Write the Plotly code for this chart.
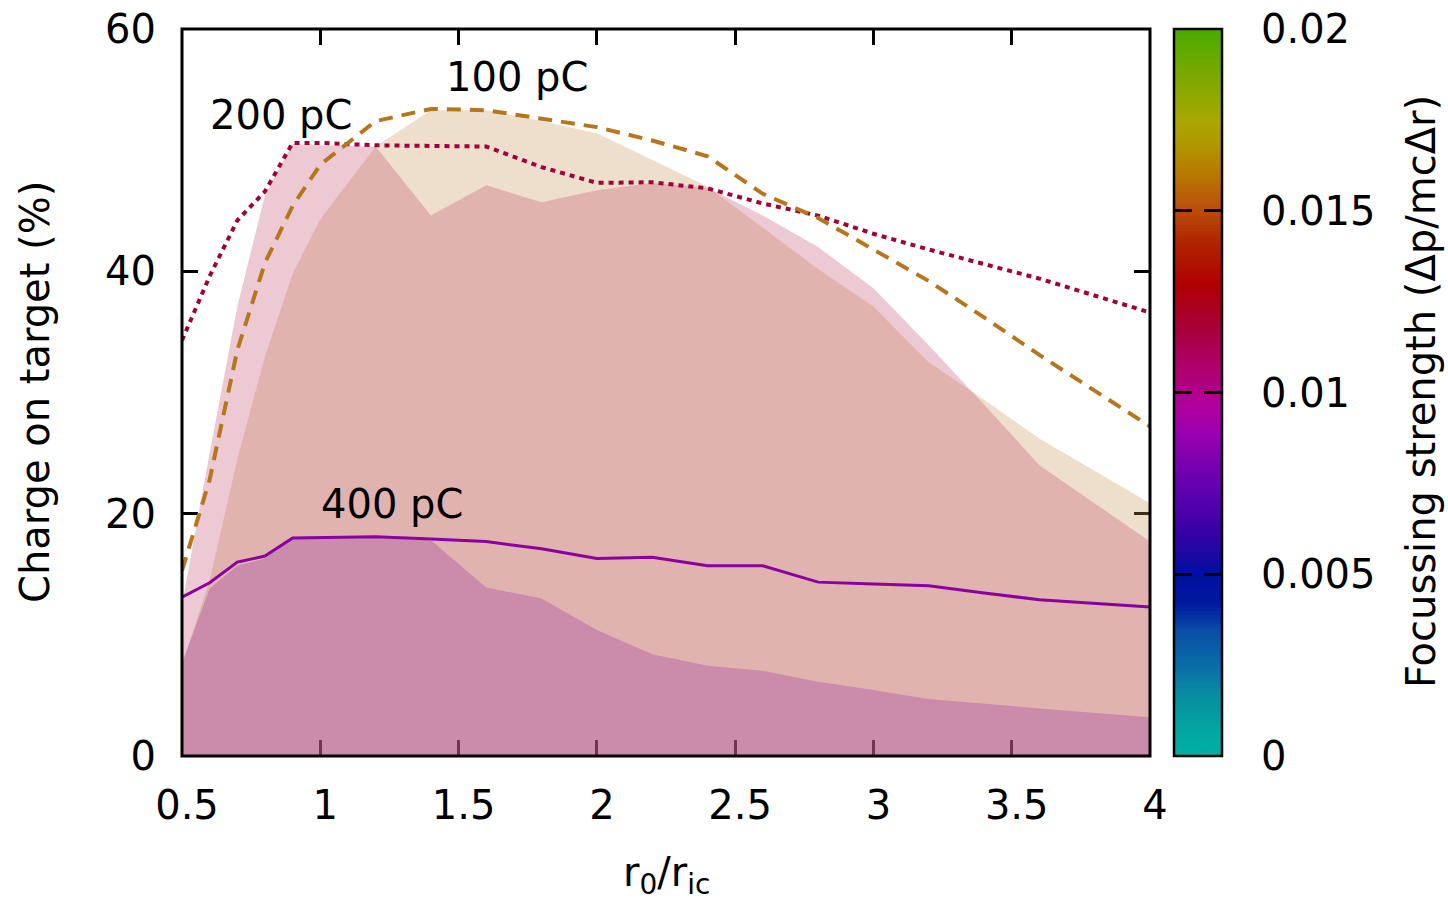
import plotly.graph_objects as go

# Normalised initial radius r0/r_ic
r_ratio = [0.5, 0.6, 0.7, 0.8, 0.9, 1.0, 1.2, 1.4, 1.6, 1.8, 2.0,
           2.2, 2.4, 2.6, 2.8, 3.0, 3.2, 3.4, 3.6, 4.0]

# Charge on target (%) - upper envelope curves
line_100pc = [15.3, 22.8, 33.5, 40.7, 45.4, 48.8, 52.4, 53.4, 53.3, 52.6, 51.9,
              50.8, 49.5, 46.4, 44.4, 41.8, 39.2, 36.2, 33.1, 27.2]
line_200pc = [34.3, 39.6, 44.2, 46.6, 50.6, 50.6, 50.4, 50.35, 50.3, 48.6, 47.3,
              47.35, 46.85, 45.6, 44.6, 43.1, 41.8, 40.6, 39.4, 36.6]
line_400pc = [13.1, 14.3, 16.0, 16.5, 18.0, 18.05, 18.1, 17.9, 17.7, 17.1, 16.3,
              16.4, 15.7, 15.7, 14.35, 14.2, 14.05, 13.45, 12.9, 12.3]

# Charge on target (%) - shaded regions
band_100pc = [7.5, 14.5, 24.5, 33.0, 39.8, 44.3, 50.3, 53.3, 53.3, 52.4, 51.4,
              49.2, 47.0, 43.6, 40.2, 37.1, 32.5, 29.4, 26.2, 20.85]
band_200pc = [12.5, 25.0, 37.1, 46.3, 50.5, 50.4, 50.3, 44.6, 47.1, 45.7, 46.7,
              47.3, 46.9, 44.6, 42.0, 38.6, 33.9, 29.0, 24.0, 17.7]
band_400pc = [7.7, 13.8, 15.7, 16.3, 17.9, 18.0, 18.0, 17.8, 13.9, 13.0, 10.4,
              8.4, 7.45, 7.04, 6.13, 5.45, 4.7, 4.3, 3.93, 3.19]

x_tickvals = [0.5, 1, 1.5, 2, 2.5, 3, 3.5, 4]
x_ticktext = ["0.5", "1", "1.5", "2", "2.5", "3", "3.5", "4"]
y_tickvals = [0, 20, 40, 60]

# Focusing-strength colour box
cb_min, cb_max = 0.0, 0.02
cb_tickvals = [0, 0.005, 0.01, 0.015, 0.02]
cb_ticktext = ["0", "0.005", "0.01", "0.015", "0.02"]
cb_steps = 240

FONT = "DejaVu Sans"
FS = 40

focus_scale = [
    [0.00, "#00b0a2"], [0.03, "#02a8a2"], [0.08, "#0890a0"], [0.12, "#0a70a8"],
    [0.17, "#0a50a8"], [0.21, "#0018a0"], [0.25, "#0010a0"], [0.31, "#3a00a8"],
    [0.38, "#6800b0"], [0.44, "#9800b0"], [0.48, "#b000a0"], [0.52, "#b00078"],
    [0.59, "#a80038"], [0.65, "#b00000"], [0.71, "#b02800"], [0.75, "#b84c0c"],
    [0.80, "#b87800"], [0.84, "#b09800"], [0.875, "#a8a800"], [0.93, "#80a800"],
    [1.00, "#48ac00"],
]

# pixel layout of the figure
W, H = 1448, 901
PLOT_L, PLOT_R, PLOT_T, PLOT_B = 182, 1150, 29, 756
CB_L, CB_R = 1174, 1222
PAPER_W = CB_R - PLOT_L
PAPER_H = PLOT_B - PLOT_T


def px_x(p):
    return (p - PLOT_L) / PAPER_W


def px_y(p):
    return (PLOT_B - p) / PAPER_H


fig = go.Figure()

# shaded regions (translucent, filled down to zero)
for band, col in [(band_100pc, "rgba(198,148,85,0.3)"),
                  (band_200pc, "rgba(195,78,108,0.3)"),
                  (band_400pc, "rgba(153,47,163,0.3)")]:
    fig.add_trace(go.Scatter(x=r_ratio, y=band, mode="lines", fill="tozeroy",
                             fillcolor=col, line=dict(width=0, color=col),
                             hoverinfo="skip", showlegend=False))

# envelope curves
fig.add_trace(go.Scatter(x=r_ratio, y=line_400pc, mode="lines",
                         line=dict(color="#8a00a0", width=3), showlegend=False))
fig.add_trace(go.Scatter(x=r_ratio, y=line_200pc, mode="lines",
                         line=dict(color="#a2003a", width=4, dash="5px,5px"),
                         showlegend=False))
fig.add_trace(go.Scatter(x=r_ratio, y=line_100pc, mode="lines",
                         line=dict(color="#b8761c", width=4, dash="14px,9px"),
                         showlegend=False))

# colour box drawn as a single-column heatmap on its own axes
cb_levels = [cb_min + (cb_max - cb_min) * i / (cb_steps - 1) for i in range(cb_steps)]
fig.add_trace(go.Heatmap(x=[0], y=cb_levels, z=[[v] for v in cb_levels],
                         colorscale=focus_scale, zmin=cb_min, zmax=cb_max,
                         showscale=False, hoverinfo="skip",
                         xaxis="x2", yaxis="y2"))

annotations = [
    dict(x=0.858, y=52.9, text="200 pC", showarrow=False, xref="x", yref="y",
         font=dict(family=FONT, size=FS, color="black")),
    dict(x=1.711, y=56.0, text="100 pC", showarrow=False, xref="x", yref="y",
         font=dict(family=FONT, size=FS, color="black")),
    dict(x=1.259, y=20.8, text="400 pC", showarrow=False, xref="x", yref="y",
         font=dict(family=FONT, size=FS, color="black")),
    dict(x=px_x(35), y=px_y(392), xref="paper", yref="paper", textangle=-90,
         text="Charge on target (%)", showarrow=False, xanchor="center", yanchor="middle",
         font=dict(family=FONT, size=FS, color="black")),
    dict(x=px_x(1421), y=px_y(392), xref="paper", yref="paper", textangle=-90,
         text="Focussing strength (\u0394p/mc\u0394r)",
         showarrow=False, xanchor="center", yanchor="middle",
         font=dict(family=FONT, size=FS, color="black")),
    dict(x=px_x(666), y=px_y(875), xref="paper", yref="paper",
         text="r<sub>0</sub>/r<sub>ic</sub>", showarrow=False, xanchor="center",
         yanchor="middle", font=dict(family=FONT, size=FS, color="black")),
]

shapes = [
    dict(type="rect", xref="x domain", yref="y domain", x0=0, x1=1, y0=0, y1=1,
         line=dict(color="black", width=3), layer="above"),
    dict(type="rect", xref="x2 domain", yref="y2 domain", x0=0, x1=1, y0=0, y1=1,
         line=dict(color="black", width=2.5), layer="above"),
]

fig.update_layout(
    width=W, height=H,
    margin=dict(l=PLOT_L, r=W - CB_R, t=PLOT_T, b=H - PLOT_B, pad=0, autoexpand=False),
    paper_bgcolor="white", plot_bgcolor="white",
    font=dict(family=FONT, size=FS, color="black"),
    shapes=shapes, annotations=annotations, showlegend=False,
    xaxis=dict(domain=[0, px_x(PLOT_R)], range=[0.5, 4], tickvals=x_tickvals,
               ticktext=x_ticktext, ticks="inside", ticklen=16, tickwidth=2.5,
               tickcolor="black", mirror="allticks", showline=False, showgrid=False,
               zeroline=False, layer="below traces", ticklabelstandoff=22,
               ticklabelshift=5, tickfont=dict(family=FONT, size=FS, color="black")),
    yaxis=dict(domain=[0, 1], range=[0, 60], tickvals=y_tickvals, ticks="inside",
               ticklen=16, tickwidth=2.5, tickcolor="black", mirror="allticks",
               showline=False, showgrid=False, zeroline=False, layer="below traces",
               ticklabelstandoff=25, tickfont=dict(family=FONT, size=FS, color="black")),
    xaxis2=dict(domain=[px_x(CB_L), 1], range=[-0.5, 0.5], showticklabels=False,
                ticks="", showgrid=False, zeroline=False, showline=False, anchor="y2"),
    yaxis2=dict(domain=[0, 1], range=[cb_min, cb_max], anchor="x2", side="right",
                tickvals=cb_tickvals, ticktext=cb_ticktext, ticks="inside", ticklen=18,
                tickwidth=2.5, tickcolor="black", mirror="allticks", showgrid=False,
                zeroline=False, showline=False, ticklabelstandoff=38,
                tickfont=dict(family=FONT, size=FS, color="black")),
)

fig.write_html("out.html")
